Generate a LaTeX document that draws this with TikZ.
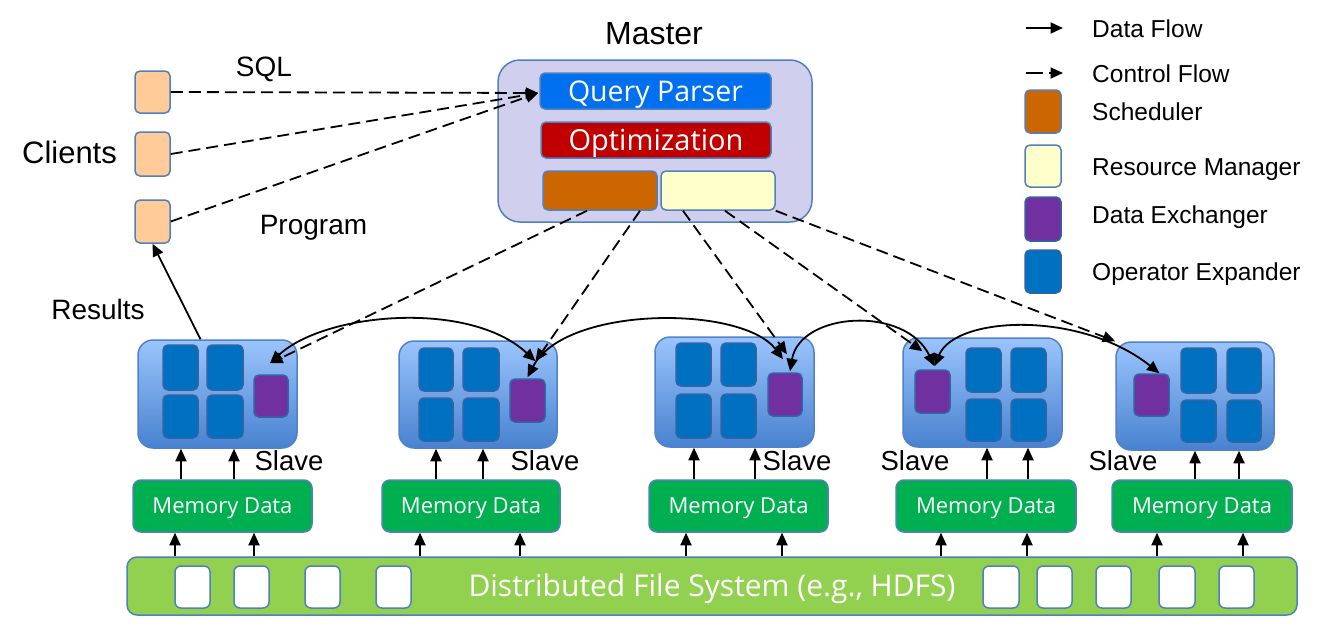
\documentclass[tikz,border=0pt]{standalone}
\usepackage{fontspec}
\setmainfont{Liberation Sans}
\newfontfamily\seg{Open Sans}
\usetikzlibrary{arrows.meta,calc}
\definecolor{bord}{RGB}{79,129,189}
\definecolor{masterc}{RGB}{208,208,238}
\definecolor{qpc}{RGB}{0,112,240}
\definecolor{optc}{RGB}{192,0,0}
\definecolor{schc}{RGB}{204,102,0}
\definecolor{rmc}{RGB}{255,255,204}
\definecolor{clientc}{RGB}{255,204,153}
\definecolor{opxc}{RGB}{0,112,192}
\definecolor{opxbord}{RGB}{50,100,165}
\definecolor{dexc}{RGB}{112,48,160}
\definecolor{memc}{RGB}{0,176,80}
\definecolor{dfsc}{RGB}{146,208,80}
\definecolor{slavetop}{RGB}{155,196,252}
\definecolor{slavebot}{RGB}{72,130,208}
\definecolor{slavebord}{RGB}{80,130,200}
\newcommand{\bx}[7][]{\node[#2, minimum width={(#5)-(#3)}, minimum height={(#6)-(#4)}] (#7) at ({((#3)+(#5))/2},{((#4)+(#6))/2}) {#1};}
\newcommand{\uparr}[3]{\draw[data] (#1.north) ++(#3,0) coordinate (tmpa) -- (tmpa |- #2.south);}
\newcommand{\dfsarr}[2]{\path (#1.south) ++(#2,0) coordinate (tmpb); \draw[data] (tmpb |- dfs.north) -- (tmpb);}
\begin{document}
\begin{tikzpicture}[x=1pt,y=-1pt,
  base/.style={draw=bord, line width=1.5pt, inner sep=0pt, rounded corners=5pt},
  masterbox/.style={base, fill=masterc, rounded corners=22pt},
  qpbox/.style={base, fill=qpc, text=white, font=\seg\fontsize{28.5}{30}\selectfont, text depth=0pt},
  optbox/.style={base, fill=optc, text=white, font=\seg\fontsize{29}{30}\selectfont, text depth=0pt},
  schbox/.style={base, fill=schc},
  rmbox/.style={base, fill=rmc},
  client/.style={base, fill=clientc},
  slavebox/.style={draw=slavebord, line width=1.5pt, top color=slavetop, bottom color=slavebot, rounded corners=15pt, inner sep=0pt},
  opx/.style={base, draw=opxbord, fill=opxc},
  dex/.style={base, draw=opxbord, fill=dexc},
  mem/.style={base, fill=memc, text=white, rounded corners=8pt, font=\seg\fontsize{22}{24}\selectfont, text depth=0pt},
  dfsbar/.style={base, fill=dfsc, rounded corners=10pt, text=white, font=\seg\fontsize{30}{32}\selectfont, text depth=0pt, text height=21.4pt},
  blk/.style={base, fill=white, rounded corners=6pt},
  lab/.style={inner sep=0pt, font=\fontsize{28}{32}\selectfont, anchor=base},
  leg/.style={inner sep=0pt, font=\fontsize{24.5}{28}\selectfont, anchor=base west},
  data/.style={line width=1.8pt, -{Triangle[length=12.5pt,width=11pt]}},
  ctrl/.style={data, dash pattern=on 12pt off 6pt},
  dbl/.style={line width=1.8pt, {Triangle[length=12.5pt,width=11pt]}-{Triangle[length=12.5pt,width=11pt]}}
]
\fill[white] (0,0) rectangle (1320,627);
\useasboundingbox (0,0) rectangle (1320,627);

% Master
\bx{masterbox}{498}{60}{812}{222}{ms}
\bx[Query Parser]{qpbox}{540}{73}{771}{109}{qp}
\bx[Optimization]{optbox}{541}{122}{771}{158}{opt}
\bx{schbox}{543}{171}{657}{210}{sch}
\bx{rmbox}{661}{171}{775}{210}{rm}
\node[lab, font=\fontsize{32}{36}\selectfont] (mlab) at (654,44) {Master};

% Clients
\bx{client}{135}{71}{170}{113}{c1}
\bx{client}{135}{132}{170}{176}{c2}
\bx{client}{135}{200}{170}{243}{c3}
\node[lab, font=\fontsize{31}{36}\selectfont] (clab) at (69.5,163.5) {Clients};
\node[lab] (sql) at (264,76.7) {SQL};
\node[lab] (prog) at (313.5,234) {Program};
\node[lab] (res) at (98,319) {Results};

% Slaves
\bx{slavebox}{138}{340}{297}{448}{s1}
\bx{opx}{163}{345}{198}{390}{s1a}
\bx{opx}{207}{345}{243}{390}{s1b}
\bx{opx}{163}{395}{198}{438}{s1c}
\bx{opx}{207}{395}{243}{438}{s1d}
\bx{dex}{254}{375}{288}{417}{p1}

\bx{slavebox}{399}{341}{557}{448}{s2}
\bx{opx}{419}{348}{453}{391}{s2a}
\bx{opx}{463}{348}{499}{391}{s2b}
\bx{opx}{419}{398}{453}{441}{s2c}
\bx{opx}{463}{398}{499}{441}{s2d}
\bx{dex}{510}{379}{545}{422}{p2}

\bx{slavebox}{655}{337}{814}{447}{s3}
\bx{opx}{676}{343}{711}{386}{s3a}
\bx{opx}{721}{343}{756}{386}{s3b}
\bx{opx}{676}{394}{711}{438}{s3c}
\bx{opx}{721}{394}{756}{438}{s3d}
\bx{dex}{768}{373}{802}{416}{p3}

\bx{slavebox}{903}{338}{1062}{447}{s4}
\bx{dex}{915}{370}{950}{413}{p4}
\bx{opx}{966}{348}{1001}{392}{s4a}
\bx{opx}{1011}{348}{1046}{392}{s4b}
\bx{opx}{966}{399}{1001}{441}{s4c}
\bx{opx}{1011}{399}{1046}{441}{s4d}

\bx{slavebox}{1116}{342}{1274}{450}{s5}
\bx{dex}{1134}{374}{1169}{416}{p5}
\bx{opx}{1181}{348}{1216}{393}{s5a}
\bx{opx}{1227}{348}{1261}{393}{s5b}
\bx{opx}{1181}{400}{1216}{442}{s5c}
\bx{opx}{1227}{400}{1261}{442}{s5d}

\node[lab, font=\fontsize{27.5}{30}\selectfont] (sl1) at (289,470) {Slave};
\node[lab, font=\fontsize{27.5}{30}\selectfont] (sl2) at (545,470) {Slave};
\node[lab, font=\fontsize{27.5}{30}\selectfont] (sl3) at (797,470) {Slave};
\node[lab, font=\fontsize{27.5}{30}\selectfont] (sl4) at (915,470) {Slave};
\node[lab, font=\fontsize{27.5}{30}\selectfont] (sl5) at (1123,470) {Slave};

% Memory
\bx[Memory Data]{mem}{133}{480}{312}{532}{m1}
\bx[Memory Data]{mem}{382}{480}{560}{532}{m2}
\bx[Memory Data]{mem}{649}{480}{828}{532}{m3}
\bx[Memory Data]{mem}{896}{480}{1076}{532}{m4}
\bx[Memory Data]{mem}{1112}{480}{1292}{532}{m5}

% DFS
\bx[Distributed File System (e.g., HDFS)]{dfsbar}{127}{557}{1297}{615}{dfs}
\bx{blk}{175}{566}{210}{608}{b1}
\bx{blk}{234}{566}{269}{608}{b2}
\bx{blk}{305}{566}{340}{608}{b3}
\bx{blk}{376}{566}{411}{608}{b4}
\bx{blk}{983}{566}{1019}{608}{b5}
\bx{blk}{1037}{566}{1072}{608}{b6}
\bx{blk}{1096}{566}{1131}{608}{b7}
\bx{blk}{1159}{566}{1195}{608}{b8}
\bx{blk}{1219}{566}{1254}{608}{b9}

% memory -> slave arrows
\uparr{m1}{s1}{-41.5}
\uparr{m1}{s1}{11.5}
\uparr{m2}{s2}{-35}
\uparr{m2}{s2}{12}
\uparr{m3}{s3}{-44.5}
\uparr{m3}{s3}{16.5}
\uparr{m4}{s4}{1}
\uparr{m4}{s4}{42}
\uparr{m5}{s5}{-7}
\uparr{m5}{s5}{37}

% dfs -> memory arrows
\dfsarr{m1}{-47.5}
\dfsarr{m1}{31.5}
\dfsarr{m2}{-51}
\dfsarr{m2}{49}
\dfsarr{m3}{-52.5}
\dfsarr{m3}{43.5}
\dfsarr{m4}{-45}
\dfsarr{m4}{41}
\dfsarr{m5}{-45}
\dfsarr{m5}{41}

% clients -> query parser
\coordinate (qpin) at ([xshift=-1pt,yshift=-2pt]qp.west);
\draw[ctrl] (c1.east) -- (qpin);
\draw[ctrl] (c2.east) -- (qpin);
\draw[ctrl] (c3.east) -- (qpin);

% results
\draw[data] ([xshift=-17pt]s1.north) -- (c3.south);

% end points at data exchangers
\coordinate (e1) at ([xshift=-1pt,yshift=11pt]p1.north);
\coordinate (e2a) at ([xshift=8pt,yshift=17pt]p2.north);
\coordinate (e2b) at ([yshift=1pt]p2.north);
\coordinate (e3a) at ([xshift=-2pt,yshift=13pt]p3.north);
\coordinate (e3c) at ([xshift=2pt,yshift=18pt]p3.north);
\coordinate (e3b) at ([xshift=5pt,yshift=1pt]p3.north);
\coordinate (e4a) at ([xshift=-10pt,yshift=18pt]p4.north);
\coordinate (e4b) at ([xshift=2pt,yshift=3pt]p4.north);
\coordinate (e5) at ([xshift=8pt]p5.north);

% control flow master -> slaves
\draw[ctrl] ([xshift=-13pt]sch.south) -- (e1);
\draw[ctrl] ([xshift=40pt]sch.south) -- (e2a);
\draw[ctrl] ([xshift=-35pt]rm.south) -- (e3c);
\draw[ctrl] ([xshift=7pt]rm.south) -- (e4a);
\draw[ctrl] (rm.south east) -- (s5.north west);

% data exchange curves
\draw[dbl] (e1) .. controls (325,312) and (470,300) .. (e2a);
\draw[dbl] (e2b) .. controls (565,305) and (743,305) .. (e3a);
\draw[dbl] (e3b) .. controls (800,312) and (905,305) .. (e4b);
\draw[dbl] (e4b) .. controls (955,316) and (1080,310) .. (e5);

% legend
\coordinate (la1) at (1026,28);
\coordinate (la2) at (1063,28);
\draw[data] (la1) -- (la2);
\node[leg] (lt1) at (1092,37.7) {Data Flow};
\coordinate (lb1) at (1026,73);
\coordinate (lb2) at (1063,73);
\draw[data, dash pattern=on 17pt off 6pt] (lb1) -- (lb2);
\node[leg] (lt2) at (1092,82.7) {Control Flow};
\bx{schbox}{1025}{90}{1061}{133}{lg1}
\node[leg] (lt3) at (1092,120) {Scheduler};
\bx{rmbox}{1025}{145}{1061}{187}{lg2}
\node[leg] (lt4) at (1092,175) {Resource Manager};
\bx{dex}{1025}{197}{1061}{241}{lg3}
\node[leg] (lt5) at (1092,223) {Data Exchanger};
\bx{opx}{1025}{250}{1061}{293}{lg4}
\node[leg] (lt6) at (1092,280) {Operator Expander};
\end{tikzpicture}
\end{document}
